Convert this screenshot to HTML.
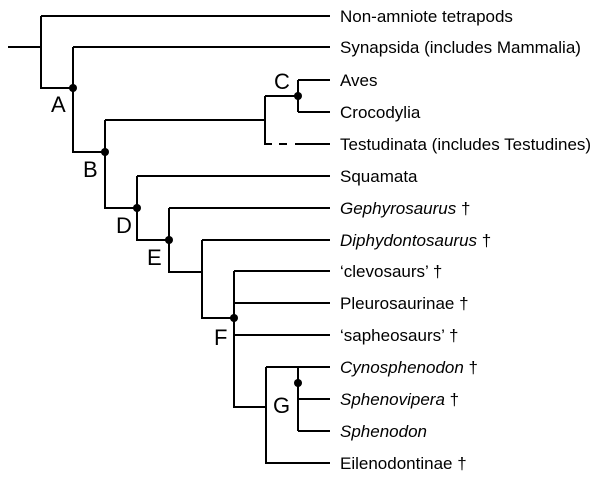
<!DOCTYPE html>
<html><head><style>
html,body{margin:0;padding:0;background:#fff;}
svg{display:block}
text{font-family:"Liberation Sans",Arial,sans-serif;fill:#000}
.t{font-size:17px}
.l{font-size:22px}
</style></head><body>
<svg width="600" height="480" viewBox="0 0 600 480">
<g stroke="#000" stroke-width="2" fill="none">
<path d="M8 47H41M41 16V88H73M41 16H330"/>
<path d="M73 47V152H105M73 47H330"/>
<path d="M105 120V208H137M105 120H265"/>
<path d="M265 96V144H272M265 96H298M279 144H287M295 144H330"/>
<path d="M298 80V112M298 80H330M298 112H330"/>
<path d="M137 176V240H169M137 176H330"/>
<path d="M169 208V272H202M169 208H330"/>
<path d="M202 240V318H234M202 240H330"/>
<path d="M234 271V407H266M234 271H330M234 303H330M234 335H330"/>
<path d="M266 367V463H330M266 367H298"/>
<path d="M298 367V431M298 367H330M298 399H330M298 431H330"/>
</g>
<g fill="#000">
<circle cx="73" cy="88" r="4"/>
<circle cx="105" cy="152" r="4"/>
<circle cx="298" cy="96" r="4"/>
<circle cx="137" cy="208" r="4"/>
<circle cx="169" cy="240" r="4"/>
<circle cx="234" cy="318" r="4"/>
<circle cx="298" cy="383" r="4"/>
</g>
<text class="l" x="51" y="112">A</text>
<text class="l" x="83" y="177">B</text>
<text class="l" x="274" y="89">C</text>
<text class="l" x="116" y="233">D</text>
<text class="l" x="147" y="265">E</text>
<text class="l" x="214" y="345">F</text>
<text class="l" x="273" y="413">G</text>
<text class="t" x="340" y="22">Non-amniote tetrapods</text>
<text class="t" x="340" y="53">Synapsida (includes Mammalia)</text>
<text class="t" x="340" y="86">Aves</text>
<text class="t" x="340" y="118">Crocodylia</text>
<text class="t" x="340" y="150">Testudinata (includes Testudines)</text>
<text class="t" x="340" y="182">Squamata</text>
<text class="t" x="340" y="214"><tspan font-style="italic">Gephyrosaurus</tspan> †</text>
<text class="t" x="340" y="246"><tspan font-style="italic">Diphydontosaurus</tspan> †</text>
<text class="t" x="340" y="277">‘clevosaurs’ †</text>
<text class="t" x="340" y="309">Pleurosaurinae †</text>
<text class="t" x="340" y="341">‘sapheosaurs’ †</text>
<text class="t" x="340" y="373"><tspan font-style="italic">Cynosphenodon</tspan> †</text>
<text class="t" x="340" y="405"><tspan font-style="italic">Sphenovipera</tspan> †</text>
<text class="t" x="340" y="437"><tspan font-style="italic">Sphenodon</tspan></text>
<text class="t" x="340" y="469">Eilenodontinae †</text>
</svg>
</body></html>
